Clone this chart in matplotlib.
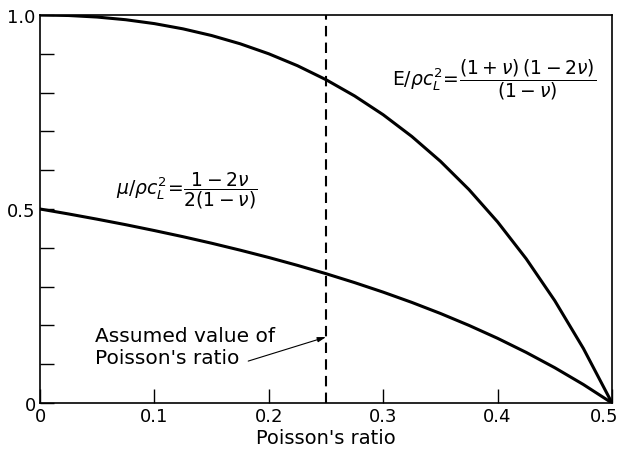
import matplotlib
matplotlib.use("Agg")
import matplotlib.pyplot as plt
import matplotlib.transforms as mtransforms

nu = [0.0, 0.025, 0.05, 0.075, 0.1, 0.125, 0.15, 0.175, 0.2, 0.225, 0.25,
      0.275, 0.3, 0.325, 0.35, 0.375, 0.4, 0.425, 0.45, 0.475, 0.5]
E_ratio = [1.0, 0.9987, 0.9947, 0.9878, 0.9778, 0.9643, 0.9471, 0.9258, 0.9, 0.8694, 0.8333,
           0.7914, 0.7429, 0.6870, 0.6231, 0.55, 0.4667, 0.3717, 0.2636, 0.1405, 0.0]
mu_ratio = [0.5, 0.4872, 0.4737, 0.4595, 0.4444, 0.4286, 0.4118, 0.3939, 0.375, 0.3548, 0.3333,
            0.3103, 0.2857, 0.2593, 0.2308, 0.2, 0.1667, 0.1304, 0.0909, 0.0476, 0.0]
assumed_nu = 0.25
x_ticks = [0, 0.1, 0.2, 0.3, 0.4, 0.5]
x_ticklabels = ["0", "0.1", "0.2", "0.3", "0.4", "0.5"]
y_ticks = [0, 0.1, 0.2, 0.3, 0.4, 0.5, 0.6, 0.7, 0.8, 0.9, 1.0]
y_ticklabels = ["0", "", "", "", "", "0.5", "", "", "", "", "1.0"]

plt.rcParams['font.family'] = ['DejaVu Sans']
plt.rcParams['mathtext.fontset'] = 'dejavusans'

fig = plt.figure(figsize=(6.2, 4.52), dpi=100)
ax = fig.add_axes([40/620, 1-404/452, 572/620, 388/452])

ax.plot(nu, E_ratio, color='black', lw=2.2)
ax.plot(nu, mu_ratio, color='black', lw=2.2)
ax.axvline(assumed_nu, color='black', lw=1.5, ls=(0, (5, 3)))

ax.set_xlim(0, 0.5)
ax.set_ylim(0, 1.0)
ax.set_xticks(x_ticks)
ax.set_xticklabels(x_ticklabels)
ax.set_yticks(y_ticks)
ax.set_yticklabels(y_ticklabels)
ax.tick_params(direction='in', length=10, width=1, labelsize=13, pad=3)
for s in ax.spines.values():
    s.set_linewidth(1.2)
ax.set_xlabel("Poisson's ratio", fontsize=14, labelpad=2)

# keep last x tick label inside the figure
last = ax.get_xticklabels()[-1]
last.set_transform(last.get_transform() + mtransforms.ScaledTranslation(-8/100, 0, fig.dpi_scale_trans))

ax.text(0.066, 0.55, r'$\mu/\rho c_L^2\!=\!\dfrac{1-2\nu}{2(1-\nu)}$', fontsize=13.5, va='center', ha='left')
ax.text(0.308, 0.835, r'$\mathrm{E}/\rho c_L^2\!=\!\dfrac{(1+\nu)\,(1-2\nu)}{(1-\nu)}$', fontsize=13.5, va='center', ha='left')

ax.text(0.048, 0.145, "Assumed value of\nPoisson's ratio", fontsize=14.5, va='center', ha='left',
        linespacing=1.2)
ax.annotate("", xy=(assumed_nu, 0.17), xytext=(0.182, 0.108),
            arrowprops=dict(arrowstyle='-|>,head_length=0.5,head_width=0.15', color='black', lw=0.8,
                            shrinkA=0, shrinkB=0))

fig.savefig("out.png", dpi=100)
